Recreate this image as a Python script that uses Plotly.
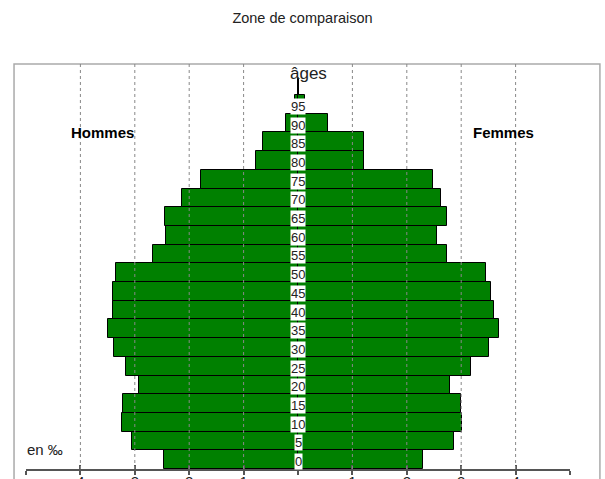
import plotly.graph_objects as go

ages = [0, 5, 10, 15, 20, 25, 30, 35, 40, 45, 50, 55, 60, 65, 70, 75, 80, 85, 90, 95]
hommes = [2.46, 3.06, 3.23, 3.21, 2.92, 3.17, 3.39, 3.50, 3.41, 3.41,
          3.34, 2.66, 2.42, 2.44, 2.13, 1.78, 0.78, 0.64, 0.22, 0.06]
femmes = [2.29, 2.87, 3.02, 3.00, 2.80, 3.18, 3.52, 3.70, 3.61, 3.55,
          3.46, 2.74, 2.56, 2.74, 2.63, 2.49, 1.22, 1.22, 0.55, 0.13]
tick_vals = [-5, -4, -3, -2, -1, 0, 1, 2, 3, 4, 5]
tick_text = ["", "4", "3", "2", "1", "", "1", "2", "3", "4", ""]
grid_vals = [-4, -3, -2, -1, 1, 2, 3, 4]

FONT = "Liberation Sans, Arial, sans-serif"
GREEN = "#008000"

fig = go.Figure()
fig.add_trace(go.Bar(y=ages, x=[-v for v in hommes], base=0, orientation="h", width=5,
                     marker=dict(color=GREEN, line=dict(color="black", width=1)),
                     name="Hommes", showlegend=False, hoverinfo="skip"))
fig.add_trace(go.Bar(y=ages, x=femmes, base=0, orientation="h", width=5,
                     marker=dict(color=GREEN, line=dict(color="black", width=1)),
                     name="Femmes", showlegend=False, hoverinfo="skip"))

shapes = []
# frame
shapes.append(dict(type="rect", xref="paper", yref="paper", x0=-0.022, x1=1.055, y0=-0.3, y1=1.0,
                   line=dict(color="#aaaaaa", width=1.5), layer="below"))
# dashed gridlines above bars
for g in grid_vals:
    shapes.append(dict(type="line", xref="x", yref="paper", x0=g, x1=g, y0=0, y1=1,
                       line=dict(color="#888888", width=1, dash="3px,3px"), layer="above"))
# âges stem
shapes.append(dict(type="line", xref="x", yref="y", x0=0, x1=0, y0=97.5, y1=102.2,
                   line=dict(color="black", width=2), layer="above"))

annotations = []
for a in ages:
    annotations.append(dict(x=0, y=a, xref="x", yref="y", text=str(a), showarrow=False,
                            bgcolor="white", borderpad=0, yshift=-2,
                            font=dict(family=FONT, size=13, color="#222222")))
annotations += [
    dict(x=0.2, y=103.2, xref="x", yref="y", text="âges", showarrow=False,
         font=dict(family=FONT, size=17, color="#222222"), yanchor="middle"),
    dict(x=-3.6, y=87.6, xref="x", yref="y", text="<b>Hommes</b>", showarrow=False,
         font=dict(family=FONT, size=15, color="black")),
    dict(x=3.77, y=87.6, xref="x", yref="y", text="<b>Femmes</b>", showarrow=False,
         font=dict(family=FONT, size=15, color="black")),
    dict(x=-4.65, y=2.6, xref="x", yref="y", text="en ‰", showarrow=False,
         font=dict(family=FONT, size=15, color="#222222")),
]

fig.update_layout(
    width=605, height=479,
    margin=dict(l=26, r=35, t=64, b=10),
    paper_bgcolor="white", plot_bgcolor="white",
    barmode="overlay", bargap=0,
    title=dict(text="Zone de comparaison", x=0.5, xanchor="center", y=1 - 18 / 479,
               yanchor="middle", yref="container",
               font=dict(family=FONT, size=14.5, color="#222222")),
    xaxis=dict(range=[-5, 5], tickvals=tick_vals, ticktext=tick_text, showgrid=False,
               zeroline=False, showline=True, linecolor="#555555", linewidth=2,
               ticks="outside", ticklen=4, tickwidth=1.5, tickcolor="#555555",
               ticklabelstandoff=-6,
               tickfont=dict(family=FONT, size=15, color="#222222"),
               automargin=False, fixedrange=True, layer="above traces"),
    xaxis2=dict(range=[-5, 5], overlaying="x", tickvals=tick_vals, showticklabels=False,
                showgrid=False, zeroline=False, showline=False, ticks="inside", ticklen=4,
                tickwidth=1.5, tickcolor="#555555", side="bottom", anchor="y",
                matches="x", automargin=False, layer="above traces"),
    yaxis=dict(range=[-2.5, 105.8], visible=False, fixedrange=True),
    shapes=shapes,
    annotations=annotations,
)
# invisible point so that the overlaid tick axis renders
fig.add_trace(go.Scatter(x=[0], y=[50], xaxis="x2", mode="markers", marker=dict(opacity=0),
                         showlegend=False, hoverinfo="skip"))

fig.write_html("out.html", config={"displayModeBar": False},
               post_script="document.body.style.margin='0';document.body.style.overflow='hidden';")
